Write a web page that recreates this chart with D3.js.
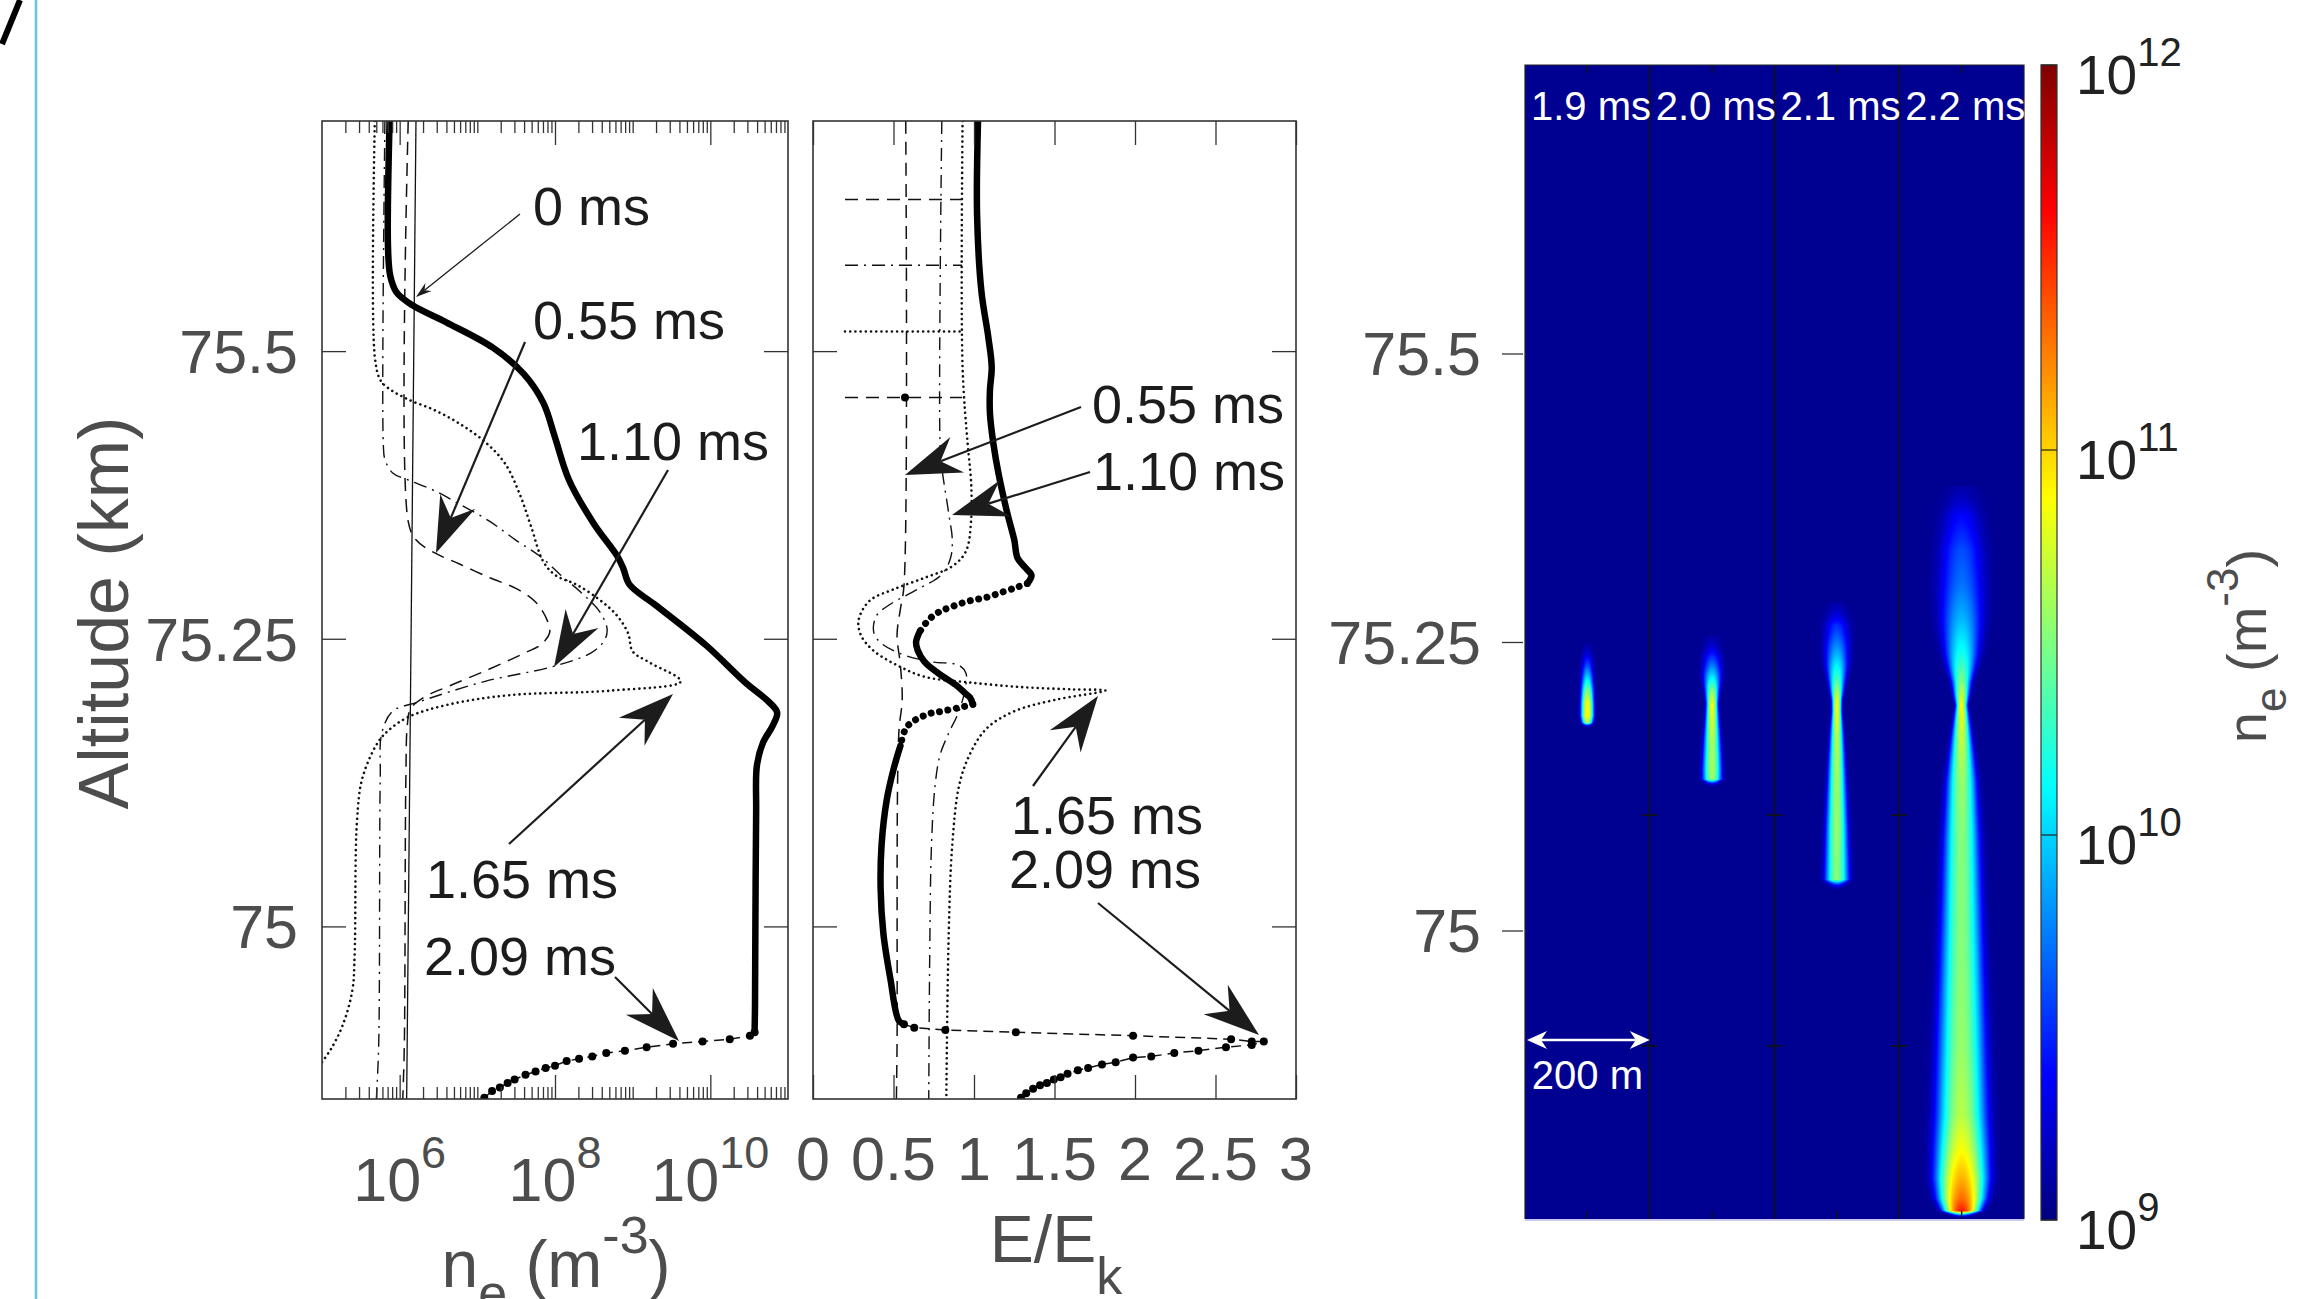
<!DOCTYPE html>
<html>
<head>
<meta charset="utf-8">
<script src="https://cdn.jsdelivr.net/npm/d3@7"></script>
<style>
  html, body { margin: 0; padding: 0; background: #fff; }
  svg { display: block; }
  text { font-family: "Liberation Sans", Arial, Helvetica, sans-serif; }
</style>
</head>
<body>
<div id="chart"></div>
<script>
// ---------- data ----------
// left panel: [log10 ne (m^-3), altitude (km)]
const ne000 = [[6.21, 75.700], [6.09, 74.850]];
const ne055 = [[6.11, 75.700], [6.11, 75.352], [6.21, 75.336], [6.44, 75.325], [6.77, 75.315], [7.16, 75.303], [7.49, 75.294], [7.75, 75.282], [7.90, 75.266], [7.93, 75.255], [7.82, 75.245], [7.62, 75.238], [7.10, 75.222], [6.64, 75.209], [6.31, 75.199], [6.14, 75.189], [6.10, 75.176], [6.08, 75.129], [6.06, 74.897], [6.04, 74.850]];
const ne110 = [[5.81, 75.700], [5.79, 75.418], [5.81, 75.406], [5.91, 75.394], [6.11, 75.388], [6.44, 75.379], [6.77, 75.367], [7.16, 75.352], [7.49, 75.336], [7.82, 75.321], [8.08, 75.305], [8.34, 75.290], [8.57, 75.274], [8.67, 75.259], [8.64, 75.249], [8.47, 75.238], [7.98, 75.226], [7.10, 75.213], [6.24, 75.195], [5.91, 75.187], [5.77, 75.168], [5.75, 75.129], [5.73, 74.897], [5.70, 74.850]];
const ne165 = [[5.68, 75.700], [5.68, 75.495], [5.75, 75.475], [5.85, 75.468], [6.11, 75.458], [6.44, 75.449], [6.77, 75.437], [7.10, 75.421], [7.36, 75.402], [7.55, 75.375], [7.69, 75.348], [7.85, 75.317], [8.01, 75.305], [8.28, 75.297], [8.61, 75.282], [8.80, 75.270], [8.94, 75.255], [9.00, 75.239], [9.20, 75.230], [9.62, 75.213], [8.73, 75.205], [7.42, 75.201], [6.64, 75.193], [6.11, 75.182], [5.85, 75.170], [5.72, 75.160], [5.52, 75.129], [5.45, 75.091], [5.42, 74.975], [5.39, 74.944], [5.26, 74.913], [5.12, 74.894], [5.00, 74.882]];
const ne209 = [[5.87, 75.700], [5.85, 75.590], [5.88, 75.565], [5.96, 75.551], [6.16, 75.540], [6.60, 75.525], [7.20, 75.503], [7.60, 75.480], [7.85, 75.455], [8.00, 75.425], [8.18, 75.388], [8.50, 75.350], [8.80, 75.322], [8.88, 75.311], [8.96, 75.297], [9.30, 75.279], [9.95, 75.244], [10.45, 75.212], [10.74, 75.196], [10.86, 75.186], [10.80, 75.174], [10.68, 75.160], [10.60, 75.140], [10.59, 75.100], [10.58, 75.000], [10.575, 74.930], [10.57, 74.908],
  [10.51, 74.905], [10.25, 74.902], [9.90, 74.900], [9.52, 74.898], [9.18, 74.895], [8.90, 74.892], [8.66, 74.890], [8.48, 74.887], [8.31, 74.885], [8.15, 74.883], [8.00, 74.879], [7.88, 74.877], [7.75, 74.874], [7.62, 74.871], [7.48, 74.867], [7.39, 74.864], [7.29, 74.860], [7.19, 74.857], [7.09, 74.851]];

// middle panel: [E/Ek, altitude (km)]
const ek055 = [[0.576, 75.700], [0.565, 75.296], [0.543, 75.276], [0.522, 75.253], [0.543, 75.227], [0.554, 75.197], [0.533, 75.168], [0.522, 74.897], [0.518, 74.850]];
const ek110 = [[0.800, 75.700], [0.789, 75.419], [0.800, 75.399], [0.843, 75.359], [0.865, 75.336], [0.854, 75.320], [0.800, 75.306], [0.650, 75.293], [0.480, 75.280], [0.394, 75.270], [0.377, 75.256], [0.416, 75.247], [0.543, 75.237], [0.736, 75.230], [0.907, 75.227], [0.950, 75.220], [0.950, 75.210], [0.907, 75.187], [0.843, 75.168], [0.789, 75.149], [0.758, 75.122], [0.736, 75.071], [0.725, 74.975], [0.719, 74.850]];
const ek165 = [[0.929, 75.700], [0.929, 75.486], [0.961, 75.419], [0.982, 75.386], [0.982, 75.353], [0.950, 75.326], [0.865, 75.313], [0.693, 75.303], [0.501, 75.293], [0.351, 75.283], [0.283, 75.266], [0.298, 75.253], [0.373, 75.240], [0.522, 75.227], [0.693, 75.217], [0.972, 75.212], [1.292, 75.208], [1.613, 75.206], [1.816, 75.205], [1.506, 75.197], [1.250, 75.187], [1.078, 75.172], [0.972, 75.149], [0.907, 75.122], [0.865, 75.071], [0.843, 74.994], [0.828, 74.850]];
const ek209 = [[1.025, 75.700], [1.019, 75.619], [1.046, 75.552], [1.089, 75.512], [1.110, 75.486], [1.099, 75.466], [1.099, 75.446], [1.121, 75.419], [1.153, 75.393], [1.207, 75.359], [1.250, 75.336], [1.271, 75.320], [1.324, 75.311], [1.357, 75.305], [1.331, 75.298],
  [1.271, 75.295], [1.185, 75.291], [1.078, 75.286], [0.972, 75.283], [0.865, 75.278], [0.779, 75.273], [0.715, 75.266],
  [0.662, 75.256], [0.640, 75.247], [0.650, 75.240], [0.693, 75.230], [0.779, 75.220], [0.886, 75.210], [0.950, 75.202], [0.975, 75.199], [0.993, 75.193],
  [0.903, 75.190], [0.800, 75.187], [0.725, 75.185], [0.672, 75.182], [0.619, 75.178], [0.576, 75.172],
  [0.543, 75.157], [0.501, 75.137], [0.458, 75.110], [0.426, 75.071], [0.420, 75.033], [0.437, 74.994], [0.480, 74.955], [0.533, 74.918], [0.565, 74.915],
  [0.629, 74.912], [0.822, 74.910], [1.260, 74.908], [1.988, 74.905], [2.597, 74.902], [2.725, 74.900], [2.800, 74.900], [2.725, 74.897], [2.565, 74.895], [2.394, 74.892], [2.244, 74.890], [2.101, 74.887], [1.988, 74.886], [1.880, 74.882], [1.795, 74.880], [1.709, 74.877], [1.645, 74.875], [1.581, 74.872], [1.538, 74.869], [1.496, 74.867], [1.453, 74.864], [1.410, 74.862], [1.367, 74.859], [1.324, 74.855], [1.292, 74.851]];

// right panel streamers: [altitude (km), log10 ne on axis (m^-3), radius (m)]
const times = ["1.9 ms", "2.0 ms", "2.1 ms", "2.2 ms"];
const s19 = [[75.248, 8.3, 6.5], [75.235, 9.2, 7], [75.222, 9.85, 6.5], [75.208, 10.5, 6], [75.197, 10.85, 5.8], [75.186, 10.9, 5.8], [75.180, 10.6, 5.2], [75.176, 8.3, 4.5]];
const s20 = [[75.255, 8.3, 11], [75.238, 9.3, 11.5], [75.222, 9.95, 10], [75.207, 10.55, 6.5], [75.196, 10.85, 5], [75.182, 10.75, 6], [75.160, 10.6, 7.8], [75.140, 10.6, 8.8], [75.131, 10.55, 8.8], [75.125, 8.3, 7.5]];
const s21 = [[75.285, 8.3, 14], [75.265, 9.3, 15], [75.246, 9.7, 14], [75.230, 10.05, 11.5], [75.214, 10.4, 7.5], [75.200, 10.8, 4.5], [75.190, 10.85, 4.2], [75.170, 10.65, 6], [75.150, 10.6, 7.2], [75.120, 10.55, 8.8], [75.090, 10.55, 10], [75.060, 10.5, 11], [75.044, 10.5, 11.4], [75.036, 8.3, 9]];
const s22 = [[75.385, 8.3, 23], [75.360, 9.1, 25], [75.330, 9.45, 26], [75.300, 9.6, 26], [75.270, 9.85, 23], [75.240, 10.15, 17], [75.215, 10.5, 9], [75.195, 10.85, 5], [75.170, 10.7, 8.5], [75.130, 10.55, 13.5], [75.080, 10.5, 16.5], [75.000, 10.5, 19], [74.900, 10.55, 22], [74.840, 10.65, 23], [74.810, 10.85, 23], [74.785, 11.1, 22], [74.768, 11.3, 19], [74.757, 11.55, 14], [74.751, 8.3, 10]];
const streamers = [s19, s20, s21, s22];
const bgLog = 9.05;

const altTicks = [75, 75.25, 75.5];
const neTickExp = [6, 8, 10];
const eTicks = [0, 0.5, 1, 1.5, 2, 2.5, 3];
const cbarExp = [9, 10, 11, 12];

// ---------- layout ----------
const GRAY = "#4d4d4d", INK = "#1c1c1c", AX = "#333";

const svg = d3.select("#chart").append("svg")
  .attr("width", 2315).attr("height", 1299).attr("viewBox", "0 0 2315 1299");

const yAlt = d3.scaleLinear().domain([74.85, 75.7]).range([1099, 121]);
const xNe = d3.scaleLog().domain([1e5, 1e11]).range([322, 788]);
const xE = d3.scaleLinear().domain([0, 3]).range([813, 1296]);
const yImg = d3.scaleLinear().domain([74.75, 75.75]).range([1219, 65]);
const cbar = d3.scaleLog().domain([1e9, 1e12]).range([1220, 65]);
const IMG = { x0: 1525, x1: 2024, y0: 65, y1: 1219 };
const subW = (IMG.x1 - IMG.x0) / 4;
const subX = d3.range(4).map(k => d3.scaleLinear().domain([-100, 100]).range([IMG.x0 + k * subW, IMG.x0 + (k + 1) * subW]));

// page decorations
svg.append("line").attr("x1", 36).attr("x2", 36).attr("y1", 0).attr("y2", 1299)
  .attr("stroke", "#62c6e2").attr("stroke-width", 2.5);
svg.append("line").attr("x1", 2).attr("y1", 44).attr("x2", 20).attr("y2", 0)
  .attr("stroke", "#000").attr("stroke-width", 6);

const defs = svg.append("defs");
defs.append("clipPath").attr("id", "clipL").append("rect")
  .attr("x", 322).attr("y", 121).attr("width", 466).attr("height", 978);
defs.append("clipPath").attr("id", "clipM").append("rect")
  .attr("x", 813).attr("y", 121).attr("width", 483).attr("height", 978);

// ---------- helpers ----------
function styleTicks(g) {
  g.select(".domain").remove();
  g.selectAll(".tick line").attr("stroke", AX).attr("stroke-width", 1.3);
}
function frame(x0, x1) {
  svg.append("rect").attr("x", x0).attr("y", 121).attr("width", x1 - x0).attr("height", 978)
    .attr("fill", "none").attr("stroke", AX).attr("stroke-width", 1.6);
}
function arrow(p1, p2, L = 56, hw = 19, w = 2.2) {
  const dx = p2[0] - p1[0], dy = p2[1] - p1[1], len = Math.hypot(dx, dy);
  const ux = dx / len, uy = dy / len, nx = -uy, ny = ux;
  const notch = [p2[0] - 0.68 * L * ux, p2[1] - 0.68 * L * uy];
  svg.append("line").attr("x1", p1[0]).attr("y1", p1[1]).attr("x2", notch[0]).attr("y2", notch[1])
    .attr("stroke", INK).attr("stroke-width", w);
  const b1 = [p2[0] - L * ux + hw * nx, p2[1] - L * uy + hw * ny];
  const b2 = [p2[0] - L * ux - hw * nx, p2[1] - L * uy - hw * ny];
  svg.append("path").attr("d", `M${p2}L${b1}L${notch}L${b2}Z`).attr("fill", INK);
}
function note(x, y, s) {
  svg.append("text").attr("x", x).attr("y", y).attr("font-size", 54).attr("fill", INK).text(s);
}
function pow10Label(g, x, y, base, exp, fs, sfs, rise, anchor, color) {
  const t = g.append("text").attr("x", x).attr("y", y).attr("font-size", fs)
    .attr("fill", color).attr("text-anchor", anchor);
  t.append("tspan").text(base);
  t.append("tspan").attr("font-size", sfs).attr("dy", -rise).text(exp);
  return t;
}

const styles = {
  solid: { w: 1.3, dash: null },
  dashed: { w: 1.5, dash: "13 8" },
  dashdot: { w: 1.4, dash: "13 6 2 6" },
  dotted: { w: 2.6, dash: "0.01 5.2", cap: "round" }
};
function drawCurve(g, data, line, st) {
  g.append("path").datum(data).attr("d", line).attr("fill", "none")
    .attr("stroke", "#111").attr("stroke-width", st.w)
    .attr("stroke-dasharray", st.dash).attr("stroke-linecap", st.cap || "butt");
}
// 2.09 ms curve: dense stretches look like a thick line, sparse ones show dots on a dashed line
function drawDotted209(g, data, xf, yf, segs) {
  const smooth = d3.line().x(d => xf(d)).y(d => yf(d)).curve(d3.curveCatmullRom.alpha(0.5));
  const straight = d3.line().x(d => xf(d)).y(d => yf(d));
  segs.forEach(([a, b, kind]) => {
    const part = data.slice(a, b + 1);
    if (kind === "thick") {
      g.append("path").datum(part).attr("d", smooth).attr("fill", "none").attr("stroke", "#000")
        .attr("stroke-width", 6.5).attr("stroke-linecap", "round").attr("stroke-linejoin", "round");
    } else if (kind === "beads") {
      g.append("path").datum(part).attr("d", smooth).attr("fill", "none").attr("stroke", "#000")
        .attr("stroke-width", 7).attr("stroke-linecap", "round").attr("stroke-dasharray", "0.01 8.5");
    } else {
      g.append("path").datum(part).attr("d", straight).attr("fill", "none").attr("stroke", "#111")
        .attr("stroke-width", 1.5).attr("stroke-dasharray", "10 6");
      g.selectAll(null).data(part).enter().append("circle")
        .attr("cx", d => xf(d)).attr("cy", d => yf(d)).attr("r", 4).attr("fill", "#000");
    }
  });
}

// ---------- left panel: ne ----------
const gL = svg.append("g").attr("clip-path", "url(#clipL)");
const lineNe = d3.line().x(d => xNe(10 ** d[0])).y(d => yAlt(d[1])).curve(d3.curveCatmullRom.alpha(0.5));
drawCurve(gL, ne000, lineNe, styles.solid);
drawCurve(gL, ne055, lineNe, styles.dashed);
drawCurve(gL, ne110, lineNe, styles.dashdot);
drawCurve(gL, ne165, lineNe, styles.dotted);
drawDotted209(gL, ne209, d => xNe(10 ** d[0]), d => yAlt(d[1]), [[0, 26, "thick"], [26, ne209.length - 1, "sparse"]]);

const majorNe = neTickExp.map(e => 10 ** e);
const minorNe = [];
for (let e = 5; e <= 10; e++) for (let k = 1; k <= 9; k++) {
  if (k === 1 && (e === 5 || e % 2 === 0)) continue;
  minorNe.push(k * 10 ** e);
}
[[d3.axisBottom, 1099], [d3.axisTop, 121]].forEach(([ax, y]) => {
  svg.append("g").attr("transform", `translate(0,${y})`)
    .call(ax(xNe).tickValues(majorNe).tickSize(-24).tickSizeOuter(0).tickFormat("")).call(styleTicks);
  svg.append("g").attr("transform", `translate(0,${y})`)
    .call(ax(xNe).tickValues(minorNe).tickSize(-12).tickSizeOuter(0).tickFormat("")).call(styleTicks);
});
svg.append("g").attr("transform", "translate(322,0)")
  .call(d3.axisLeft(yAlt).tickValues(altTicks).tickSize(-24).tickFormat("")).call(styleTicks);
svg.append("g").attr("transform", "translate(788,0)")
  .call(d3.axisRight(yAlt).tickValues(altTicks).tickSize(-24).tickFormat("")).call(styleTicks);
frame(322, 788);

neTickExp.forEach(e => pow10Label(svg, xNe(10 ** e), 1201, "10", e, 61, 45, 33, "middle", GRAY));
altTicks.forEach(v => svg.append("text").attr("x", 298).attr("y", yAlt(v)).attr("dy", "0.36em")
  .attr("text-anchor", "end").attr("font-size", 61).attr("fill", GRAY).text(v));

// axis labels
const xl = svg.append("text").attr("x", 556).attr("y", 1287).attr("text-anchor", "middle")
  .attr("font-size", 66).attr("fill", GRAY);
xl.append("tspan").text("n");
xl.append("tspan").attr("font-size", 52).attr("dy", 24).text("e");
xl.append("tspan").attr("dy", -24).text(" (m");
xl.append("tspan").attr("font-size", 52).attr("dy", -34).text("-3");
xl.append("tspan").attr("dy", 34).text(")");

svg.append("text").attr("transform", "translate(128,613) rotate(-90)").attr("text-anchor", "middle")
  .attr("font-size", 70).attr("fill", GRAY).text("Altitude (km)");

// left annotations
note(533, 225, "0 ms");
note(533, 339, "0.55 ms");
note(577, 460, "1.10 ms");
note(426, 898, "1.65 ms");
note(424, 975, "2.09 ms");
arrow([520, 214], [416, 297], 16, 5, 1.3);
arrow([525, 342], [436, 553]);
arrow([668, 470], [554, 667]);
arrow([509, 844], [673, 694]);
arrow([615, 977], [679, 1041]);

// ---------- middle panel: E/Ek ----------
const gM = svg.append("g").attr("clip-path", "url(#clipM)");
const lineE = d3.line().x(d => xE(d[0])).y(d => yAlt(d[1])).curve(d3.curveCatmullRom.alpha(0.5));
drawCurve(gM, ek055, lineE, styles.dashed);
drawCurve(gM, ek110, lineE, styles.dashdot);
drawCurve(gM, ek165, lineE, styles.dotted);
drawDotted209(gM, ek209, d => xE(d[0]), d => yAlt(d[1]),
  [[0, 14, "thick"], [14, 22, "beads"], [22, 30, "thick"], [30, 37, "beads"], [37, 45, "thick"], [45, ek209.length - 1, "sparse"]]);

// legend-style line samples at the upper left of the panel
const legendRows = [[199.5, styles.dashed], [265.3, styles.dashdot], [331.5, styles.dotted], [397.4, styles.dashed]];
legendRows.forEach(([y, st]) => {
  svg.append("line").attr("x1", 845).attr("x2", 962).attr("y1", y).attr("y2", y)
    .attr("stroke", "#111").attr("stroke-width", st.w).attr("stroke-dasharray", st.dash)
    .attr("stroke-linecap", st.cap || "butt");
});
svg.append("circle").attr("cx", 905).attr("cy", 397.4).attr("r", 4).attr("fill", "#000");

[[d3.axisBottom, 1099], [d3.axisTop, 121]].forEach(([ax, y]) => {
  svg.append("g").attr("transform", `translate(0,${y})`)
    .call(ax(xE).tickValues(eTicks).tickSize(-24).tickSizeOuter(0).tickFormat("")).call(styleTicks);
});
svg.append("g").attr("transform", "translate(813,0)")
  .call(d3.axisLeft(yAlt).tickValues(altTicks).tickSize(-24).tickFormat("")).call(styleTicks);
svg.append("g").attr("transform", "translate(1296,0)")
  .call(d3.axisRight(yAlt).tickValues(altTicks).tickSize(-24).tickFormat("")).call(styleTicks);
frame(813, 1296);

eTicks.forEach(v => svg.append("text").attr("x", xE(v)).attr("y", 1180).attr("text-anchor", "middle")
  .attr("font-size", 61).attr("fill", GRAY).text(v));
const el = svg.append("text").attr("x", 1056).attr("y", 1262).attr("text-anchor", "middle")
  .attr("font-size", 66).attr("fill", GRAY);
el.append("tspan").text("E/E");
el.append("tspan").attr("font-size", 52).attr("dy", 32).text("k");

note(1092, 423, "0.55 ms");
note(1093, 490, "1.10 ms");
note(1011, 834, "1.65 ms");
note(1009, 888, "2.09 ms");
arrow([1081, 407], [905, 475]);
arrow([1090, 472], [952, 515]);
arrow([1033, 786], [1098, 696]);
arrow([1098, 903], [1259, 1035]);

// ---------- right panel: ne image ----------
function jet(t) {
  t = Math.max(0, Math.min(1, t));
  const c = v => Math.round(255 * Math.max(0, Math.min(1, v)));
  return [c(1.5 - Math.abs(4 * t - 3)), c(1.5 - Math.abs(4 * t - 2)), c(1.5 - Math.abs(4 * t - 1))];
}
const logToT = v => (v - 9) / 3;

const cw = IMG.x1 - IMG.x0, ch = IMG.y1 - IMG.y0;
const canvas = document.createElement("canvas");
canvas.width = cw; canvas.height = ch;
const ctx = canvas.getContext("2d");
const im = ctx.createImageData(cw, ch);
const bgc = jet(logToT(bgLog));
for (let i = 0; i < cw * ch; i++) { im.data[4 * i] = bgc[0]; im.data[4 * i + 1] = bgc[1]; im.data[4 * i + 2] = bgc[2]; im.data[4 * i + 3] = 255; }
const bgLin = 10 ** bgLog;
streamers.forEach((prof, k) => {
  const px0 = Math.floor(subX[k].range()[0] - IMG.x0), px1 = Math.ceil(subX[k].range()[1] - IMG.x0);
  for (let py = 0; py < ch; py++) {
    const alt = yImg.invert(IMG.y0 + py + 0.5);
    if (alt > prof[0][0] || alt < prof[prof.length - 1][0]) continue;
    let j = 0;
    while (j < prof.length - 2 && prof[j + 1][0] > alt) j++;
    const a = prof[j], b = prof[j + 1];
    const f = (a[0] - alt) / (a[0] - b[0]);
    const axis = 10 ** (a[1] + f * (b[1] - a[1]));
    const w = a[2] + f * (b[2] - a[2]);
    for (let px = Math.max(0, px0); px < Math.min(cw, px1); px++) {
      const xm = subX[k].invert(IMG.x0 + px + 0.5);
      const v = Math.log10(axis * Math.exp(-(xm / w) * (xm / w)) + bgLin);
      const c = jet(logToT(v));
      const o = 4 * (py * cw + px);
      im.data[o] = c[0]; im.data[o + 1] = c[1]; im.data[o + 2] = c[2];
    }
  }
});
ctx.putImageData(im, 0, 0);
svg.append("image").attr("x", IMG.x0).attr("y", IMG.y0).attr("width", cw).attr("height", ch)
  .attr("preserveAspectRatio", "none").attr("href", canvas.toDataURL());

// sub-panel separators and small ticks
for (let k = 1; k < 4; k++) {
  const x = subX[k].range()[0];
  svg.append("line").attr("x1", x).attr("x2", x).attr("y1", IMG.y0).attr("y2", IMG.y1)
    .attr("stroke", "#111").attr("stroke-width", 1.6);
  [75.1, 74.9].forEach(v => svg.append("line").attr("x1", x - 8).attr("x2", x + 8)
    .attr("y1", yImg(v)).attr("y2", yImg(v)).attr("stroke", "#111").attr("stroke-width", 1.6));
}
subX.forEach(s => {
  svg.append("line").attr("x1", s(0)).attr("x2", s(0)).attr("y1", IMG.y0).attr("y2", IMG.y0 + 8)
    .attr("stroke", "#111").attr("stroke-width", 1.4);
  svg.append("line").attr("x1", s(0)).attr("x2", s(0)).attr("y1", IMG.y1 - 8).attr("y2", IMG.y1)
    .attr("stroke", "#111").attr("stroke-width", 1.4);
});
svg.append("path").attr("d", `M${IMG.x0},${IMG.y1}V${IMG.y0}H${IMG.x1}V${IMG.y1}`)
  .attr("fill", "none").attr("stroke", "#222").attr("stroke-width", 1.2);
svg.append("line").attr("x1", IMG.x0).attr("x2", IMG.x1).attr("y1", IMG.y1 + 1).attr("y2", IMG.y1 + 1)
  .attr("stroke", "#c9c9ee").attr("stroke-width", 2);

times.forEach((t, k) => svg.append("text").attr("x", subX[k].range()[0] + 6).attr("y", 120)
  .attr("font-size", 40).attr("fill", "#fff").text(t));

// 200 m scale arrow
(function () {
  const y = 1040, xa = subX[0](-100) + 2, xb = subX[0](100);
  svg.append("line").attr("x1", xa + 14).attr("x2", xb - 14).attr("y1", y).attr("y2", y)
    .attr("stroke", "#fff").attr("stroke-width", 2.5);
  svg.append("path").attr("d", `M${xa},${y}L${xa + 20},${y - 9}L${xa + 14},${y}L${xa + 20},${y + 9}Z`).attr("fill", "#fff");
  svg.append("path").attr("d", `M${xb},${y}L${xb - 20},${y - 9}L${xb - 14},${y}L${xb - 20},${y + 9}Z`).attr("fill", "#fff");
  svg.append("text").attr("x", subX[0](0)).attr("y", 1089).attr("text-anchor", "middle")
    .attr("font-size", 40).attr("fill", "#fff").text("200 m");
})();

svg.append("g").attr("transform", `translate(${IMG.x0 - 2},0)`)
  .call(d3.axisLeft(yImg).tickValues(altTicks).tickSize(21).tickFormat("")).call(styleTicks);
altTicks.forEach(v => svg.append("text").attr("x", 1481).attr("y", yImg(v)).attr("dy", "0.36em")
  .attr("text-anchor", "end").attr("font-size", 61).attr("fill", GRAY).text(v));

// ---------- colorbar ----------
const cb = document.createElement("canvas");
cb.width = 1; cb.height = 256;
const cbx = cb.getContext("2d");
for (let i = 0; i < 256; i++) {
  const c = jet(1 - (i + 0.5) / 256);
  cbx.fillStyle = `rgb(${c[0]},${c[1]},${c[2]})`;
  cbx.fillRect(0, i, 1, 1);
}
svg.append("image").attr("x", 2041).attr("y", cbar(1e12)).attr("width", 16)
  .attr("height", cbar(1e9) - cbar(1e12)).attr("preserveAspectRatio", "none").attr("href", cb.toDataURL());
svg.append("rect").attr("x", 2041).attr("y", cbar(1e12)).attr("width", 16)
  .attr("height", cbar(1e9) - cbar(1e12)).attr("fill", "none").attr("stroke", "#333").attr("stroke-width", 1.2);
cbarExp.forEach(e => {
  const y = cbar(10 ** e);
  svg.append("line").attr("x1", 2041).attr("x2", 2057).attr("y1", y).attr("y2", y)
    .attr("stroke", "#222").attr("stroke-width", 1.2);
  pow10Label(svg, 2076, y + 29, "10", e, 55, 40, 28, "start", "#222");
});
const cl = svg.append("text").attr("transform", "translate(2266,646) rotate(-90)")
  .attr("text-anchor", "middle").attr("font-size", 56).attr("fill", GRAY);
cl.append("tspan").text("n");
cl.append("tspan").attr("font-size", 44).attr("dy", 20).text("e");
cl.append("tspan").attr("dy", -20).text(" (m");
cl.append("tspan").attr("font-size", 44).attr("dy", -28).text("-3");
cl.append("tspan").attr("dy", 28).text(")");
</script>
</body>
</html>
